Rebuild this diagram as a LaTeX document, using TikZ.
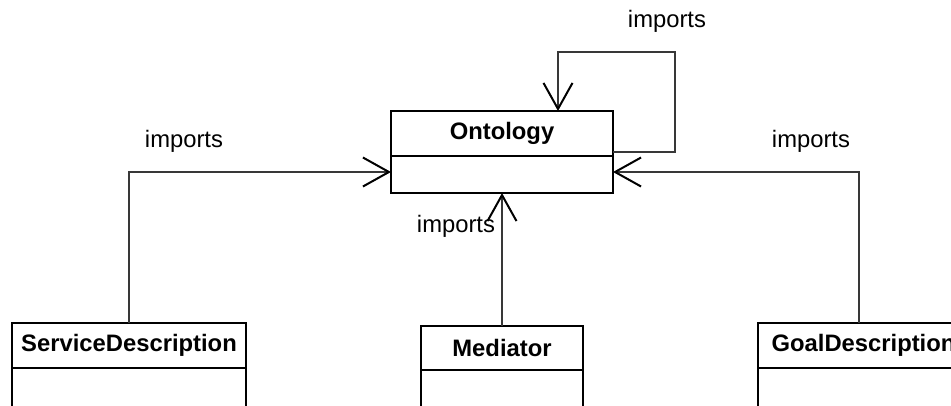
\documentclass[tikz,border=0pt]{standalone}
\usepackage{fontspec}
\setmainfont{Liberation Sans}
\usetikzlibrary{arrows.meta}
\begin{document}
\begin{tikzpicture}[x=1pt,y=-1pt,
  every node/.style={font=\fontsize{23.8pt}{28pt}\selectfont},
  classhead/.style={draw=black,line width=2pt,fill=white,inner sep=0pt,outer sep=0pt,
    font=\fontsize{23.8pt}{28pt}\selectfont\bfseries},
  classbody/.style={draw=black,line width=2pt,fill=white,inner sep=0pt,outer sep=0pt},
  conn/.style={draw=black!78,line width=1.4pt,
    -{Straight Barb[length=26pt,width=29pt,line width=2pt,color=black]}},
  lbl/.style={inner sep=0pt}]
  \useasboundingbox (0,0) rectangle (951,405);
  \clip (0,0) rectangle (951,405);

  % Ontology class: name compartment and empty attribute compartment
  \node[classhead,minimum width=222pt,minimum height=45pt] (ont) at (502,133.5) {Ontology};
  \node[classbody,minimum width=222pt,minimum height=37pt,anchor=north] (ontb) at (ont.south) {};

  % lower classes (their attribute compartments run past the page edge)
  \node[classhead,minimum width=234pt,minimum height=45pt] (svc) at (129,345.5) {ServiceDescription};
  \node[classbody,minimum width=234pt,minimum height=45pt,anchor=north] (svcb) at (svc.south) {};

  \node[classhead,minimum width=162pt,minimum height=44pt] (med) at (502,348) {Mediator};
  \node[classbody,minimum width=162pt,minimum height=45pt,anchor=north] (medb) at (med.south) {};

  \node[classhead,minimum width=211pt,minimum height=45pt] (goal) at (863.5,345.5) {GoalDescription};
  \node[classbody,minimum width=211pt,minimum height=45pt,anchor=north] (goalb) at (goal.south) {};

  % imports dependencies
  \draw[conn] (svc.north) |- ([yshift=2.5pt]ontb.west);
  \draw[conn] ([xshift=-4.5pt]goal.north) |- ([yshift=2.5pt]ontb.east);
  \draw[conn] (med.north) -- (ontb.south);

  % self import loop
  \coordinate (loopTR) at (675,52);
  \draw[conn] ([yshift=4pt]ont.south east) -| (loopTR) -| ([xshift=56pt]ont.north);

  % labels
  \node[lbl] (lTop) at (667,21) {imports};
  \node[lbl] (lLeft) at (184,141) {imports};
  \node[lbl] (lRight) at (811,141) {imports};
  \node[lbl] (lMed) at (456,226) {imports};
\end{tikzpicture}
\end{document}
